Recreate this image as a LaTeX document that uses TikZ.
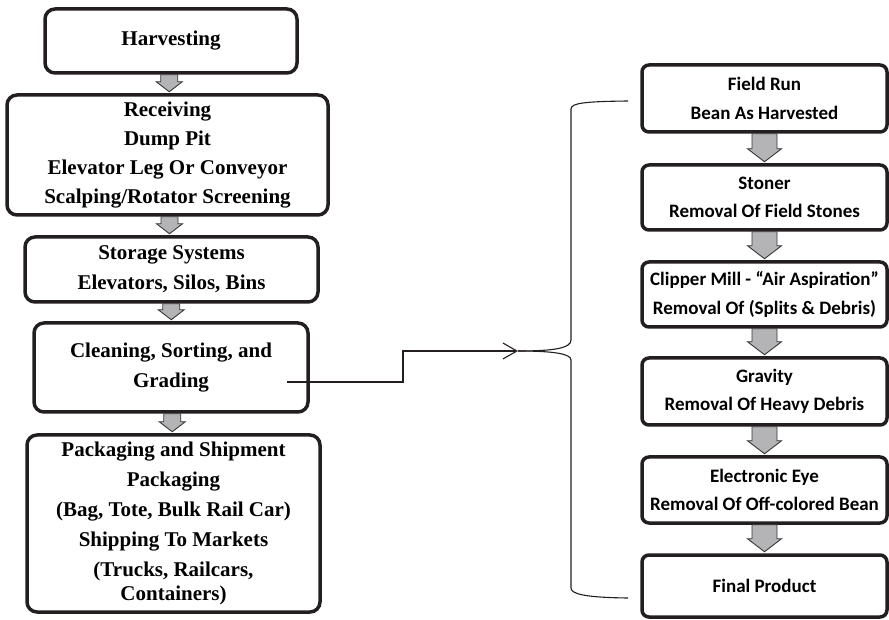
\documentclass[tikz,border=0pt]{standalone}
\usepackage{fontspec}
\setmainfont{Liberation Serif}
\newfontfamily\labelsans{Carlito}
\usetikzlibrary{arrows.meta,calc}
\definecolor{ink}{RGB}{35,31,32}
\definecolor{arrowfill}{RGB}{180,180,182}
\definecolor{arrowedge}{RGB}{55,55,55}
\tikzset{
  leftbox/.style={draw=ink, line width=3.5pt, rounded corners=10pt, align=center,
    inner sep=0pt, font=\fontsize{21}{29}\selectfont\bfseries},
  widelines/.style={font=\fontsize{21}{30}\selectfont\bfseries},
  rightbox/.style={draw=ink, line width=3.5pt, rounded corners=7pt, align=center,
    inner sep=0pt, minimum width=245pt, font=\labelsans\fontsize{19}{28.5}\selectfont\bfseries},
  flowarrow/.style={draw=arrowedge, line width=0.9pt, fill=arrowfill, line join=miter},
  link/.style={draw=ink, line width=1.1pt},
}
% block arrow between two stacked boxes:
% #1 upper node, #2 lower node, #3 shaft half-width, #4 head half-width, #5 head length
\newcommand\stagearrow[5]{%
  \path[flowarrow] let \p1=($(#1.south)!0.5!(#2.north)$), \p2=(#1.south), \p3=(#2.north) in
    (\x1-#3,\y2) -- (\x1+#3,\y2) -- (\x1+#3,\y3+#5+1.5pt) -- (\x1+#4,\y3+#5+1.5pt)
    -- (\x1,\y3+1.5pt) -- (\x1-#4,\y3+#5+1.5pt) -- (\x1-#3,\y3+#5+1.5pt) -- cycle;}
\begin{document}
\begin{tikzpicture}[x=1pt,y=1pt]
\useasboundingbox (0,0) rectangle (889,619);

% main handling stages
\node[leftbox, minimum width=252pt, minimum height=64pt] (harv) at (171,578) {Harvesting};
\node[leftbox, minimum width=321pt, minimum height=120pt] (recv) at (167.5,464)
  {Receiving\\Dump Pit\\Elevator Leg Or Conveyor\\Scalping/Rotator Screening};
\node[leftbox, widelines, minimum width=293pt, minimum height=65pt] (stor) at (171.5,349.5)
  {Storage Systems\\Elevators, Silos, Bins};
\node[leftbox, widelines, minimum width=274pt, minimum height=89pt] (clean) at (171,251.5)
  {Cleaning, Sorting, and\\Grading};
\node[leftbox, widelines, minimum width=293pt, minimum height=177pt] (pack) at (173.5,95.5)
  {Packaging and Shipment\\Packaging\\(Bag, Tote, Bulk Rail Car)\\Shipping To Markets\\(Trucks, Railcars,\\[-6pt]Containers)};

\stagearrow{harv}{recv}{8.5pt}{13pt}{10pt}
\stagearrow{recv}{stor}{8.5pt}{13pt}{10pt}
\stagearrow{stor}{clean}{8.5pt}{13pt}{10pt}
\stagearrow{clean}{pack}{8.5pt}{13pt}{10pt}

% cleaning line detail
\node[rightbox, minimum height=67pt] (field) at (764.5,520.5) {Field Run\\Bean As Harvested};
\node[rightbox, minimum height=65pt] (stoner) at (764.5,421.5) {Stoner\\Removal Of Field Stones};
\node[rightbox, minimum height=65pt] (clipper) at (764.5,324.5) {Clipper Mill - “Air Aspiration”\\Removal Of (Splits \& Debris)};
\node[rightbox, minimum height=67pt] (gravity) at (764.5,227.5) {Gravity\\Removal Of Heavy Debris};
\node[rightbox, minimum height=66pt] (eye) at (764.5,129) {Electronic Eye\\Removal Of Off-colored Bean};
\node[rightbox, minimum height=62pt] (final) at (764.5,33) {Final Product};

\stagearrow{field}{stoner}{12.5pt}{17pt}{13pt}
\stagearrow{stoner}{clipper}{12.5pt}{17pt}{13pt}
\stagearrow{clipper}{gravity}{12.5pt}{17pt}{13pt}
\stagearrow{gravity}{eye}{12.5pt}{17pt}{13pt}
\stagearrow{eye}{final}{12.5pt}{17pt}{13pt}

% link from the cleaning stage to the bracket
\coordinate (linestart) at ($(clean.center)+(116,-14.5)$);
\coordinate (tip) at (518,268);
\draw[link, -{Straight Barb[length=14pt,width=16pt]}] (linestart) -- (403,237) |- (tip);

% bracket grouping the detailed steps
\draw[link] (tip) .. controls (555,268) and (571,271) .. (571,279) -- (571,510)
  .. controls (571,516) and (585,517.5) .. (628,518);
\draw[link] (tip) .. controls (555,268) and (571,265) .. (571,259) -- (571,31)
  .. controls (571,25) and (585,21.5) .. (628,21);
\end{tikzpicture}
\end{document}
